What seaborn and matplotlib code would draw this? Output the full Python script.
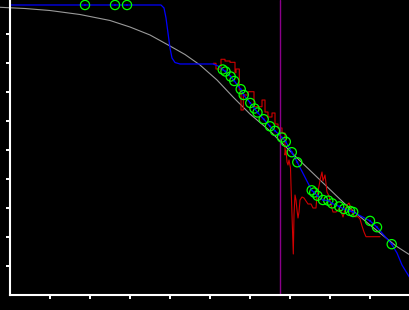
import matplotlib
matplotlib.use("Agg")
import matplotlib.pyplot as plt
import seaborn as sns

# ---- data ----
gray_x = [-0.25, 0.375, 1.0, 1.75, 2.5, 3.0, 3.5, 4.0, 4.375, 4.75, 5.175, 5.575,
          6.0, 6.5, 7.125, 7.75, 8.375, 9.0, 9.65, 10.0]
gray_y = [9.921, 9.879, 9.810, 9.672, 9.466, 9.241, 8.966, 8.586, 8.293, 7.931, 7.414, 6.828,
          6.241, 5.655, 4.793, 3.966, 3.138, 2.414, 1.690, 1.379]

green_x = [1.875, 2.625, 2.925,
           5.3175, 5.3875, 5.5175, 5.6075, 5.7675, 5.8425, 6.0075, 6.1125, 6.1875, 6.3425,
           6.5, 6.625, 6.8, 6.895, 7.045, 7.1825,
           7.5425, 7.605, 7.6875, 7.8225, 7.9575, 8.055, 8.23, 8.345, 8.5, 8.58,
           9.0, 9.175, 9.5425]
green_y = [10.0, 10.0, 10.0,
           7.776, 7.707, 7.534, 7.379, 7.097, 6.897, 6.621, 6.431, 6.293, 6.062,
           5.817, 5.662, 5.431, 5.283, 4.924, 4.576,
           3.610, 3.534, 3.421, 3.276, 3.255, 3.159, 3.052, 2.966, 2.900, 2.862,
           2.555, 2.338, 1.752]

blue_head_x = [0.0, 3.775, 3.85, 3.9, 3.95, 4.0, 4.05, 4.125, 4.25, 5.075, 5.2]
blue_head_y = [10.0, 10.0, 9.897, 9.552, 9.034, 8.517, 8.172, 8.017, 7.966, 7.966, 7.897]
blue_tail_x = [9.675, 9.8, 10.0]
blue_tail_y = [1.448, 1.034, 0.586]

red_x = [5.0825, 5.15, 5.15, 5.275, 5.275, 5.375, 5.375, 5.5, 5.5, 5.625, 5.625, 5.65, 5.65,
         5.7325, 5.7325, 5.775, 5.775, 5.8325, 5.8325, 5.9575, 5.9575, 6.1, 6.1, 6.25,
         6.3, 6.3, 6.375, 6.375, 6.45, 6.45, 6.55, 6.55, 6.625, 6.625, 6.7, 6.7, 6.8, 6.8,
         6.875, 6.875, 6.9, 6.925, 6.95, 6.975, 7.0125, 7.025, 7.0375, 7.0625, 7.0825,
         7.1, 7.125, 7.15, 7.175, 7.2, 7.225, 7.25, 7.3, 7.35, 7.4, 7.45, 7.525, 7.575,
         7.65, 7.675, 7.725, 7.7625, 7.8, 7.825, 7.875, 7.925, 7.975, 8.025, 8.075, 8.15,
         8.225, 8.275, 8.325, 8.375, 8.425, 8.475, 8.525, 8.575, 8.625, 8.7, 8.75, 8.8,
         8.85, 8.9, 9.25]
red_y = [7.990, 7.990, 7.793, 7.793, 8.128, 8.128, 8.069, 8.069, 8.024, 8.024, 7.666, 7.666,
         7.793, 7.793, 7.069, 7.069, 6.379, 6.379, 6.897, 6.897, 7.010, 7.010, 6.493, 6.493,
         6.493, 6.724, 6.724, 6.310, 6.310, 6.138, 6.138, 6.276, 6.276, 5.897, 5.897, 5.759,
         5.759, 5.586, 5.586, 4.828, 5.0, 4.586, 4.483, 4.655, 4.379, 3.793, 3.276, 2.241,
         1.414, 2.759, 3.448, 3.276, 2.931, 2.655, 2.862, 3.276, 3.379, 3.345, 3.241, 3.138,
         3.138, 3.0, 3.0, 3.414, 3.759, 4.034, 4.241, 3.931, 4.138, 3.552, 3.414, 3.103,
         2.862, 2.862, 2.966, 2.897, 2.690, 2.931, 3.103, 3.172, 3.0, 2.759, 2.700, 2.700,
         2.621, 2.379, 2.172, 2.010, 2.010]

vline_x = 6.76
x_ticks = [1, 2, 3, 4, 5, 6, 7, 8, 9]
y_ticks = [1, 2, 3, 4, 5, 6, 7, 8, 9]

# ---- style ----
sns.set_style("dark", {"axes.facecolor": "black", "figure.facecolor": "black"})

fig = plt.figure(figsize=(4.1, 3.1), dpi=100)
ax = fig.add_axes([0, 15 / 310, 1, 295 / 310])
ax.set_facecolor("black")

blue_x = blue_head_x + green_x[3:] + blue_tail_x
blue_y = blue_head_y + green_y[3:] + blue_tail_y

sns.lineplot(x=gray_x, y=gray_y, sort=False, estimator=None, color="#9a9a9a",
             lw=0.8, ax=ax)
sns.lineplot(x=red_x, y=red_y, sort=False, estimator=None, color="#d00000",
             lw=0.8, ax=ax)
sns.lineplot(x=blue_x, y=blue_y, sort=False, estimator=None, color="#0000ff",
             lw=0.9, ax=ax)
ax.axvline(vline_x, color="#8a008a", lw=1.0)
sns.scatterplot(x=green_x, y=green_y, marker="o", s=44, facecolor="none",
                edgecolor="#00ff00", linewidth=0.9, ax=ax, zorder=5)
sns.scatterplot(x=green_x, y=green_y, marker="o", s=2, color="#0000ff",
                edgecolor="none", ax=ax, zorder=6)

ax.set_xlim(-0.25, 10)
ax.set_ylim(0, 295 / 29)
ax.set_xticks(x_ticks)
ax.set_yticks(y_ticks)
ax.set_xticklabels([])
ax.set_yticklabels([])
ax.grid(False)
ax.tick_params(colors="white", direction="out", length=3, width=1.4,
               bottom=True, left=True)
for s in ["top", "right"]:
    ax.spines[s].set_visible(False)
ax.spines["left"].set_position(("data", 0))
ax.spines["bottom"].set_bounds(0, 10)
for s in ["left", "bottom"]:
    ax.spines[s].set_color("white")
    ax.spines[s].set_linewidth(1.5)
    ax.spines[s].set_visible(True)
ax.set_xlabel("")
ax.set_ylabel("")

fig.savefig("out.png", dpi=100, facecolor="black")
